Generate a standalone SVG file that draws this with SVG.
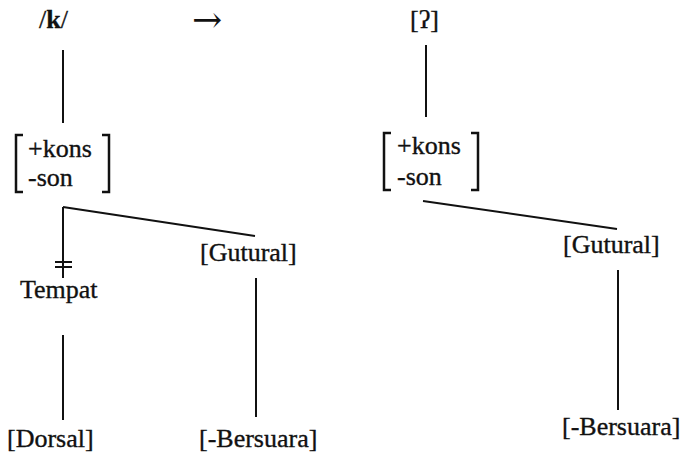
<svg xmlns="http://www.w3.org/2000/svg" width="683" height="454" viewBox="0 0 683 454">
<style>
.t{font-family:"Liberation Serif","Times New Roman",serif;font-size:26px;fill:#111;stroke:#111;stroke-width:0.35}
.f{font-family:"Liberation Serif","Times New Roman",serif;font-size:26px;fill:#111;stroke:#111;stroke-width:0.35}
.a{font-family:"DejaVu Serif",serif;font-size:36px;fill:#111}
.ln{stroke:#111;stroke-width:2;fill:none}
.br{stroke:#111;stroke-width:2.5;fill:none}
</style>
<rect width="683" height="454" fill="#fff"/>
<g id="k"><text class="t" x="39" y="28">/<tspan font-weight="bold">k</tspan>/</text></g>
<g id="arrow"><text class="a" x="192" y="32">→</text></g>
<g id="glottal"><text class="t" x="410" y="28">[ʔ]</text></g>
<g id="feat-left">
<path class="br" d="M23,135 H16 V192 H23"/>
<path class="br" d="M102,135 H109 V192 H102"/>
<text class="f" x="28" y="157">+kons</text>
<text class="f" x="28" y="186">-son</text>
</g>
<g id="feat-right">
<path class="br" d="M391,133 H384 V190 H391"/>
<path class="br" d="M471,133 H478 V190 H471"/>
<text class="f" x="397" y="154">+kons</text>
<text class="f" x="397" y="185">-son</text>
</g>
<g id="tempat"><text class="t" x="20" y="298">Tempat</text></g>
<g id="gutural-left"><text class="t" x="200" y="261">[Gutural]</text></g>
<g id="dorsal"><text class="t" x="7" y="447">[Dorsal]</text></g>
<g id="bersuara-left"><text class="t" x="199" y="447">[-Bersuara]</text></g>
<g id="gutural-right"><text class="t" x="563" y="253">[Gutural]</text></g>
<g id="bersuara-right"><text class="t" x="562" y="435">[-Bersuara]</text></g>
<g id="connectors">
<line class="ln" x1="63" y1="50" x2="63" y2="123"/>
<line class="ln" x1="426" y1="45" x2="426" y2="117"/>
<line class="ln" x1="63" y1="207" x2="255" y2="236"/>
<line class="ln" x1="63" y1="207" x2="63" y2="278"/>
<line class="ln" x1="55" y1="262" x2="72" y2="262"/>
<line class="ln" x1="55" y1="267" x2="72" y2="267"/>
<line class="ln" x1="63" y1="335" x2="63" y2="420"/>
<line class="ln" x1="256" y1="278" x2="256" y2="417"/>
<line class="ln" x1="423" y1="201" x2="617" y2="229"/>
<line class="ln" x1="618" y1="270" x2="618" y2="410"/>
</g>
</svg>
